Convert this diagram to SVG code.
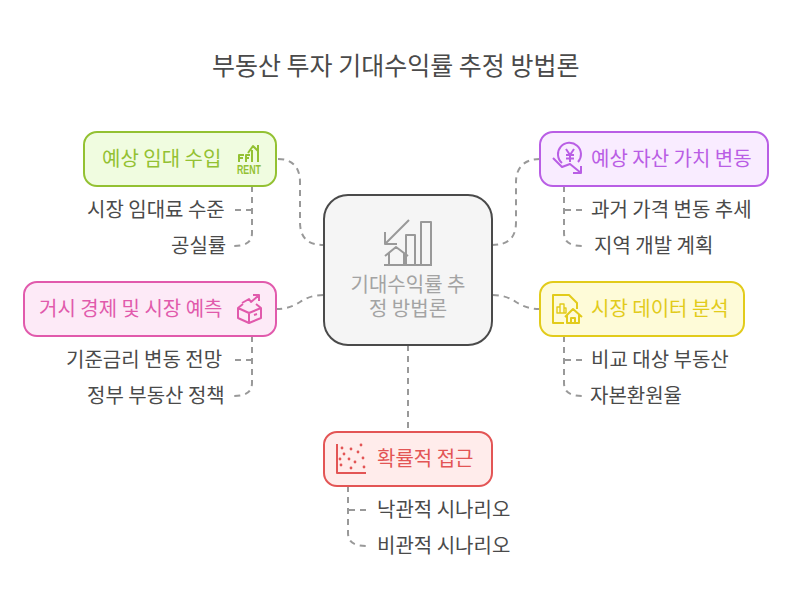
<svg xmlns="http://www.w3.org/2000/svg" width="792" height="606" viewBox="0 0 792 606">
<style>
text{font-family:"Noto Sans CJK KR","Noto Sans",sans-serif}
.t{font-size:25px;fill:#4a4a4a}
.l{font-size:20px;text-anchor:start}
.s{font-size:20px;fill:#4a4a4a}
.c{font-size:20px;fill:#a3a3a3;text-anchor:middle}
.n{stroke-width:2}
.d{fill:none;stroke:#999;stroke-width:2;stroke-dasharray:6 5}
.i{fill:none;stroke-width:2;stroke-linejoin:round}
</style>
<rect width="792" height="606" fill="#fff"/>
<text class="t" x="212" y="75">부동산 투자 기대수익률 추정 방법론</text>
<g id="connectors">
<path class="d" d="M278 159C292 159 300 167 300 182V222C300 238 308 245 324 245"/>
<path class="d" d="M540 159C525 159 516 167 516 182V222C516 238 508 245 492 245"/>
<path class="d" d="M276 309C300 309 300 295 324 295"/>
<path class="d" d="M540 309C516 309 516 295 492 295"/>
<path class="d" d="M408 345V432"/>
<path class="d" d="M252 186V233C252 242 246 246 233 246"/>
<path class="d" d="M235 210H252"/>
<path class="d" d="M564 186V233C564 242 570 246 583 246"/>
<path class="d" d="M582 210H564"/>
<path class="d" d="M252 336V383C252 392 246 396 233 396"/>
<path class="d" d="M235 360H252"/>
<path class="d" d="M564 336V383C564 392 570 396 583 396"/>
<path class="d" d="M582 360H564"/>
<path class="d" d="M348 486V533C348 542 354 546 367 546"/>
<path class="d" d="M366 510H348"/>
</g>
<g id="center">
<rect class="n" x="324" y="195" width="168" height="150" rx="24" fill="#f5f5f5" stroke="#4a4a4a"/>
<g class="i" stroke="#999">
<path d="M409 220L385 244M385 232V244H397"/>
<path d="M385 256L396 247L408 256M389 253V265H404V253"/>
<path d="M406 265V235H415V265M421 265V222H431V265M384 265H432" />
</g>
<text class="c"><tspan x="408" y="292">기대수익률 추</tspan><tspan x="408" y="316">정 방법론</tspan></text>
</g>
<g id="rent">
<rect class="n" x="84" y="132" width="192" height="54" rx="13" fill="#f0fce0" stroke="#93c132"/>
<text class="l" x="102" y="166" fill="#93c132">예상 임대 수입</text>
<g class="i" stroke="#93c132">
<path d="M239 162V155H244M239 158H243M246 162V155H250M246 158H249M248 153L253 146L258 151M252 150V162M258 145V162"/>
</g>
<text x="237" y="174" font-size="12" font-weight="700" fill="#93c132" textLength="24" lengthAdjust="spacingAndGlyphs" style="font-family:'Liberation Sans',sans-serif">RENT</text>
</g>
<g id="s1">
<text class="s" x="87" y="217">시장 임대료 수준</text>
<text class="s" x="171" y="253">공실률</text>
</g>
<g id="value">
<rect class="n" x="540" y="132" width="228" height="54" rx="13" fill="#f9ecff" stroke="#b95ee5"/>
<text class="l" x="591" y="166" fill="#b95ee5">예상 자산 가치 변동</text>
<g class="i" stroke="#b95ee5">
<path d="M562 163A11.500 11.500 0 1 1 578 162"/>
<path d="M566 149L570 155L574 149M570 155V162M566 155H574M566 158.500H574"/>
<path d="M553 158L562 167L570 164L581 173M581 166V173H573"/>
</g>
</g>
<g id="s2">
<text class="s" x="591" y="217">과거 가격 변동 추세</text>
<text class="s" x="594" y="253">지역 개발 계획</text>
</g>
<g id="macro">
<rect class="n" x="24" y="282" width="252" height="54" rx="13" fill="#fdeaf7" stroke="#e15aac"/>
<text class="l" x="39" y="316" fill="#e15aac">거시 경제 및 시장 예측</text>
<g class="i" stroke="#e15aac">
<path d="M238 308L249 313L261 308V318L249 323L238 318ZM249 313V323M238 308L243 304M261 308L256 304M257 314L254 315"/>
<path d="M242 303L249 299L251 302L258 296M253 295H259V301"/>
</g>
</g>
<g id="s3">
<text class="s" x="66" y="367">기준금리 변동 전망</text>
<text class="s" x="87" y="403">정부 부동산 정책</text>
</g>
<g id="data">
<rect class="n" x="540" y="282" width="204" height="54" rx="13" fill="#fefbd8" stroke="#e2cb1b"/>
<text class="l" x="591" y="316" fill="#e2cb1b">시장 데이터 분석</text>
<g class="i" stroke="#e2cb1b">
<path d="M564 323H553V295H569L577 303V309"/>
<path d="M557 313V307H560V313ZM560 313V304H564V313ZM564 313V308H566V313Z" stroke-width="1.4"/>
<path d="M565 317L573 309L582 317M567 315V323H579V315M571 323V318H575V323"/>
</g>
</g>
<g id="s4">
<text class="s" x="591" y="367">비교 대상 부동산</text>
<text class="s" x="590" y="403">자본환원율</text>
</g>
<g id="prob">
<rect class="n" x="324" y="432" width="168" height="54" rx="13" fill="#ffeceb" stroke="#e35555"/>
<text class="l" x="377" y="466" fill="#e35555">확률적 접근</text>
<path class="i" stroke="#e35555" d="M337 444V473H366"/>
<g fill="#e35555">
<circle cx="342" cy="448" r="1.4"/><circle cx="351" cy="449" r="1.4"/><circle cx="361" cy="445" r="1.4"/><circle cx="358" cy="452" r="1.4"/><circle cx="344" cy="454" r="1.4"/><circle cx="340" cy="459" r="1.4"/><circle cx="349" cy="459" r="1.4"/><circle cx="355" cy="462" r="1.4"/><circle cx="363" cy="458" r="1.4"/><circle cx="341" cy="465" r="1.4"/><circle cx="351" cy="468" r="1.4"/><circle cx="364" cy="467" r="1.4"/>
</g>
</g>
<g id="s5">
<text class="s" x="377" y="517">낙관적 시나리오</text>
<text class="s" x="377" y="553">비관적 시나리오</text>
</g>
</svg>
